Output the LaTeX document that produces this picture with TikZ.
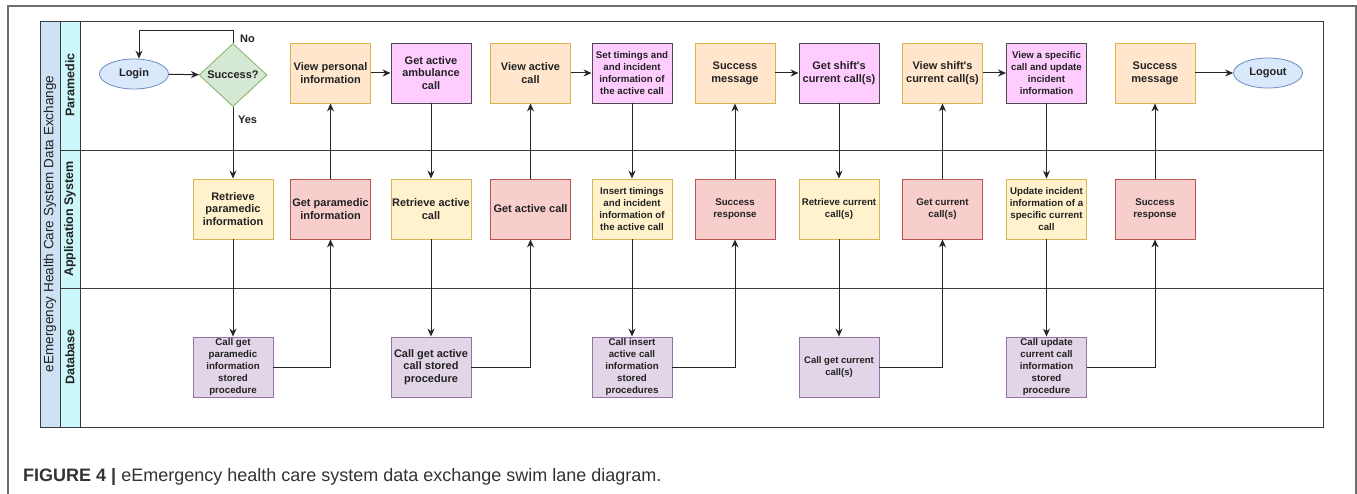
\documentclass[tikz,border=0pt]{standalone}
\usepackage{fontspec}
\setmainfont{Liberation Sans}
\usetikzlibrary{arrows.meta,shapes.geometric}
\definecolor{framegray}{HTML}{6E6E6E}
\definecolor{laneline}{HTML}{3A3A3A}
\definecolor{titleblue}{HTML}{CFE2F5}
\definecolor{headcyan}{HTML}{CCF8FB}
\definecolor{ellfill}{HTML}{DAE8FC}
\definecolor{elldraw}{HTML}{6C8EBF}
\definecolor{diafill}{HTML}{D5E8D4}
\definecolor{diadraw}{HTML}{82B366}
\definecolor{orfill}{HTML}{FFE6CC}
\definecolor{ordraw}{HTML}{DCB44A}
\definecolor{pkfill}{HTML}{FFCCFF}
\definecolor{pkdraw}{HTML}{4A4A4A}
\definecolor{yefill}{HTML}{FFF2CC}
\definecolor{yedraw}{HTML}{D6B656}
\definecolor{rdfill}{HTML}{F8CECC}
\definecolor{rddraw}{HTML}{B85450}
\definecolor{pufill}{HTML}{E1D5E7}
\definecolor{pudraw}{HTML}{9673A6}
\definecolor{txt}{HTML}{222222}
\definecolor{captxt}{HTML}{333333}
\tikzset{
  boxbase/.style={draw, line width=0.9pt, minimum width=80pt, minimum height=60pt, inner sep=1pt, align=center, text=txt},
  bigtxt/.style={font=\bfseries\fontsize{11}{12.7}\selectfont},
  smalltxt/.style={font=\bfseries\fontsize{9.7}{11.8}\selectfont},
  orbox/.style={boxbase, fill=orfill, draw=ordraw},
  pkbox/.style={boxbase, fill=pkfill, draw=pkdraw},
  yebox/.style={boxbase, fill=yefill, draw=yedraw},
  rdbox/.style={boxbase, fill=rdfill, draw=rddraw},
  pubox/.style={boxbase, fill=pufill, draw=pudraw},
  term/.style={ellipse, draw=elldraw, fill=ellfill, line width=0.8pt, minimum width=69pt, minimum height=30pt, inner sep=0pt, text=txt, font=\bfseries\fontsize{11}{13}\selectfont},
  arr/.style={draw=black!85, line width=1pt, -{Stealth[length=8pt,width=7pt]}},
  lanelabel/.style={rotate=90, font=\bfseries\fontsize{12.5}{14}\selectfont, text=txt},
  edgelabel/.style={font=\bfseries\fontsize{11}{13}\selectfont, text=txt}
}
\begin{document}
\begin{tikzpicture}[x=1pt,y=-1pt]
\useasboundingbox (0,0) rectangle (1357,494);
% outer figure frame
\draw[framegray, line width=1.3pt] (8,494) -- (8,6) -- (1356,6) -- (1356,494);
% pool
\draw[laneline, line width=0.9pt, fill=titleblue] (40,21) rectangle (60,427);
\draw[laneline, line width=0.9pt, fill=headcyan] (60,21) rectangle (80,427);
\draw[laneline, line width=0.9pt] (80,21) rectangle (1323,427);
\draw[laneline, line width=0.9pt] (60,150) -- (1323,150);
\draw[laneline, line width=0.9pt] (60,288) -- (1323,288);
\node[rotate=90, font=\fontsize{13.5}{15}\selectfont, text=txt] (pooltitle) at (50,224) {eEmergency Health Care System Data Exchange};
\node[lanelabel] (lp) at (70,85) {Paramedic};
\node[lanelabel] (la) at (70,219) {Application System};
\node[lanelabel] (ld) at (70,357) {Database};

% Paramedic lane
\node[term] (login) at (134,74) {Login};
\node[diamond, draw=diadraw, fill=diafill, line width=0.8pt, minimum width=68pt, minimum height=63pt, inner sep=0pt, aspect=1.08, text=txt, font=\bfseries\fontsize{11}{13}\selectfont] (succ) at (233,75) {Success?};
\node[orbox, bigtxt] (p1) at (330.5,73) {View personal\\information};
\node[pkbox, bigtxt] (p2) at (431,73) {Get active\\ambulance\\call};
\node[orbox, bigtxt] (p3) at (530.5,73) {View active\\call};
\node[pkbox, smalltxt] (p4) at (632,73) {Set timings and\\and incident\\information of\\the active call};
\node[orbox, bigtxt] (p5) at (735,73) {Success\\message};
\node[pkbox, bigtxt] (p6) at (839,73) {Get shift\textquotesingle s\\current call(s)};
\node[orbox, bigtxt] (p7) at (942.5,73) {View shift\textquotesingle s\\current call(s)};
\node[pkbox, smalltxt] (p8) at (1046.5,73) {View a specific\\call and update\\incident\\information};
\node[orbox, bigtxt] (p9) at (1155,73) {Success\\message};
\node[term] (logout) at (1268,73) {Logout};

% Application lane
\node[yebox, bigtxt] (a1) at (233,209) {Retrieve\\paramedic\\information};
\node[rdbox, bigtxt] (a2) at (330.5,209) {Get paramedic\\information};
\node[yebox, bigtxt] (a3) at (431,209) {Retrieve active\\call};
\node[rdbox, bigtxt] (a4) at (530.5,209) {Get active call};
\node[yebox, smalltxt] (a5) at (632,209) {Insert timings\\and incident\\information of\\the active call};
\node[rdbox, smalltxt] (a6) at (735,209) {Success\\response};
\node[yebox, smalltxt] (a7) at (839,209) {Retrieve current\\call(s)};
\node[rdbox, smalltxt] (a8) at (942.5,209) {Get current\\call(s)};
\node[yebox, smalltxt] (a9) at (1046.5,209) {Update incident\\information of a\\specific current\\call};
\node[rdbox, smalltxt] (a10) at (1155,209) {Success\\response};

% Database lane
\node[pubox, smalltxt] (d1) at (233,367) {Call get\\paramedic\\information\\stored\\procedure};
\node[pubox, bigtxt] (d2) at (431,367) {Call get active\\call stored\\procedure};
\node[pubox, smalltxt] (d3) at (632,367) {Call insert\\active call\\information\\stored\\procedures};
\node[pubox, font=\bfseries\fontsize{9.5}{11.5}\selectfont] (d4) at (839,367) {Call get current\\call(s)};
\node[pubox, smalltxt] (d5) at (1046.5,367) {Call update\\current call\\information\\stored\\procedure};

% connectors
\draw[arr] (login) -- (succ);
\draw[arr] (succ.north) -- ++(0,-13) -| ([xshift=5pt]login.north);
\node[edgelabel] (nolab) at (247.5,39) {No};
\draw[arr] (succ.south) -- (a1.north);
\node[edgelabel] (yeslab) at (247.5,119.5) {Yes};
\draw[arr] (a1) -- (d1);
\draw[arr] (d1.east) -| (a2.south);
\draw[arr] (a2) -- (p1);
\draw[arr] (p1) -- (p2);
\draw[arr] (p2) -- (a3);
\draw[arr] (a3) -- (d2);
\draw[arr] (d2.east) -| (a4.south);
\draw[arr] (a4) -- (p3);
\draw[arr] (p3) -- (p4);
\draw[arr] (p4) -- (a5);
\draw[arr] (a5) -- (d3);
\draw[arr] (d3.east) -| (a6.south);
\draw[arr] (a6) -- (p5);
\draw[arr] (p5) -- (p6);
\draw[arr] (p6) -- (a7);
\draw[arr] (a7) -- (d4);
\draw[arr] (d4.east) -| (a8.south);
\draw[arr] (a8) -- (p7);
\draw[arr] (p7) -- (p8);
\draw[arr] (p8) -- (a9);
\draw[arr] (a9) -- (d5);
\draw[arr] (d5.east) -| (a10.south);
\draw[arr] (a10) -- (p9);
\draw[arr] (p9) -- (logout);

% caption
\node[anchor=base west, inner sep=0pt, text=captxt, font=\fontsize{18}{21}\selectfont] (caption) at (23,481) {\textbf{FIGURE 4 |} eEmergency health care system data exchange swim lane diagram.};
\end{tikzpicture}
\end{document}
